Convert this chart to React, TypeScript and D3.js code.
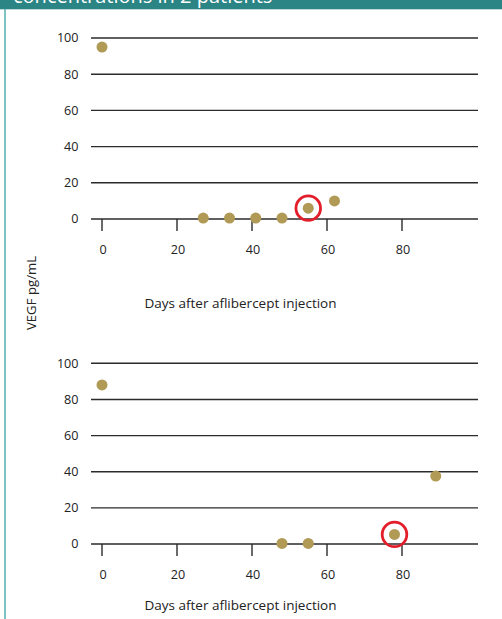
import React from "react";
import * as d3 from "d3";

const title = "concentrations in 2 patients";
const xTicks = [0, 20, 40, 60, 80];
const yTicks = [0, 20, 40, 60, 80, 100];
const xLabel = "Days after aflibercept injection";
const yLabel = "VEGF pg/mL";

const p1Days = [0, 27, 34, 41, 48, 55, 62];
const p1Vegf = [95, 0.5, 0.5, 0.5, 0.5, 6, 10];
const p1Circled = [5];

const p2Days = [0, 48, 55, 78, 89];
const p2Vegf = [88, 0.3, 0.3, 5.3, 37.6];
const p2Circled = [3];

const W = 502;
const H = 619;
const x = d3.scaleLinear().domain([0, 80]).range([102, 402]);
const gridX0 = 91;
const gridX1 = 478;
const font = "'Open Sans', sans-serif";

function Panel({ days, vals, circled, y0, y100 }: { days: number[]; vals: number[]; circled: number[]; y0: number; y100: number }) {
  const y = d3.scaleLinear().domain([0, 100]).range([y0, y100]);
  return (
    <g>
      {yTicks.map((t) => (
        <g key={"y" + t}>
          <line x1={gridX0} x2={gridX1} y1={y(t)} y2={y(t)} stroke="#2b2b2b" strokeWidth={1.4} />
          <text x={78.5} y={y(t)} dy="0.35em" textAnchor="end" fontSize={12.6} fontFamily={font} fill="#222">{t}</text>
        </g>
      ))}
      {xTicks.map((t) => (
        <g key={"x" + t}>
          <line x1={x(t)} x2={x(t)} y1={y(0)} y2={y(0) + 12} stroke="#2b2b2b" strokeWidth={1.4} />
          <text x={x(t) + 1} y={y(0) + 31} dy="0.35em" textAnchor="middle" fontSize={12.6} fontFamily={font} fill="#222">{t}</text>
        </g>
      ))}
      {days.map((d, i) => (
        <circle key={"p" + i} cx={x(d)} cy={y(vals[i])} r={5.5} fill="#b09a56" />
      ))}
      {circled.map((i) => (
        <circle key={"c" + i} cx={x(days[i])} cy={y(vals[i])} r={12.3} fill="none" stroke="#e31e2a" strokeWidth={2.8} />
      ))}
    </g>
  );
}

export default function App() {
  return (
    <svg width={W} height={H} style={{ position: "absolute", left: 0, top: 0, background: "#fff" }}>
      <rect x={0} y={0} width={W} height={9.3} fill="#2b8585" />
      <text x={13} y={3} fontSize={20} fontFamily={font} fill="#fff">{title}</text>
      <line x1={5} x2={5} y1={9} y2={H} stroke="#5fb3b3" strokeWidth={1.6} />
      <Panel days={p1Days} vals={p1Vegf} circled={p1Circled} y0={219} y100={38} />
      <Panel days={p2Days} vals={p2Vegf} circled={p2Circled} y0={544} y100={363.3} />
      <text x={240.5} y={303} dy="0.35em" textAnchor="middle" fontSize={13.5} fontFamily={font} fill="#222">{xLabel}</text>
      <text x={240.5} y={605} dy="0.35em" textAnchor="middle" fontSize={13.5} fontFamily={font} fill="#222">{xLabel}</text>
      <text transform="translate(31.5,293) rotate(-90)" dy="0.35em" textAnchor="middle" fontSize={13.2} fontFamily={font} fill="#222">{yLabel}</text>
    </svg>
  );
}
